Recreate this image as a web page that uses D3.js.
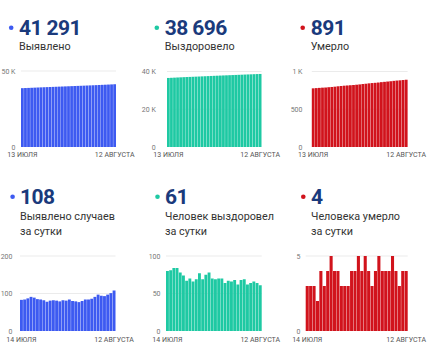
<!DOCTYPE html>
<html>
<head>
<meta charset="utf-8">
<script src="https://cdn.jsdelivr.net/npm/d3@7/dist/d3.min.js"></script>
<style>
  html, body { margin: 0; padding: 0; background: #fff; }
  svg { display: block; font-family: Roboto, "Noto Sans", sans-serif; }
</style>
</head>
<body>
<svg id="chart" width="430" height="355"></svg>
<script>
// ---------- DATA ----------
const datesCumulative = ["13 июля","14 июля","15 июля","16 июля","17 июля","18 июля","19 июля","20 июля","21 июля","22 июля","23 июля","24 июля","25 июля","26 июля","27 июля","28 июля","29 июля","30 июля","31 июля","1 августа","2 августа","3 августа","4 августа","5 августа","6 августа","7 августа","8 августа","9 августа","10 августа","11 августа","12 августа"];
const datesDaily = ["14 июля","15 июля","16 июля","17 июля","18 июля","19 июля","20 июля","21 июля","22 июля","23 июля","24 июля","25 июля","26 июля","27 июля","28 июля","29 июля","30 июля","31 июля","1 августа","2 августа","3 августа","4 августа","5 августа","6 августа","7 августа","8 августа","9 августа","10 августа","11 августа","12 августа"];

const casesTotal = [38707,38790,38874,38961,39052,39141,39226,39310,39392,39470,39551,39633,39714,39793,39875,39956,40040,40120,40199,40276,40356,40440,40524,40610,40701,40798,40892,40985,41082,41183,41291];
const recoveredTotal = [36584,36664,36745,36829,36913,36991,37065,37132,37202,37268,37337,37414,37483,37558,37636,37706,37775,37845,37915,37979,38046,38112,38180,38242,38310,38379,38441,38505,38571,38635,38696];
const deathsTotal = [777,780,783,786,788,792,795,799,804,808,812,815,818,821,825,829,834,838,843,847,850,854,859,863,867,871,876,880,883,887,891];

const casesDaily = [83,84,87,91,89,85,84,82,78,81,82,81,79,82,81,84,80,79,77,80,84,84,86,91,97,94,93,97,101,108];
const recoveredDaily = [80,81,84,84,78,74,67,70,66,69,77,69,75,78,70,69,70,70,64,67,66,68,62,68,69,62,64,66,64,61];
const deathsDaily = [3,3,3,2,4,3,4,5,4,4,3,3,3,4,4,5,4,5,4,3,4,5,4,4,4,5,4,3,4,4];

const headlineNumbers = ["41 291","38 696","891","108","61","4"];
const headlineLabels = [["Выявлено"],["Выздоровело"],["Умерло"],["Выявлено случаев","за сутки"],["Человек выздоровел","за сутки"],["Человека умерло","за сутки"]];

const yTicksCasesTotal = [0, 50000];
const yTicksRecoveredTotal = [0, 20000, 40000];
const yTicksDeathsTotal = [0, 500, 1000];
const yTicksCasesDaily = [0, 100, 200];
const yTicksRecoveredDaily = [0, 50, 100];
const yTicksDeathsDaily = [0, 5];

const xLabelsCumulative = ["13 ИЮЛЯ", "12 АВГУСТА"];
const xLabelsDaily = ["14 ИЮЛЯ", "12 АВГУСТА"];

// ---------- STYLE / LAYOUT ----------
const BLUE = "#3d5af1", TEAL = "#1ec9a3", RED = "#d1131c";
const NAVY = "#1a3a7c";

const panels = [
  { values: casesTotal, dates: datesCumulative, yTicks: yTicksCasesTotal, xLabels: xLabelsCumulative, color: BLUE,
    dotX: 11.2, numX: 19, numY: 35, lblY: 49.5, x0: 21, x1: 116, yTop: 71, yBase: 147, labelRight: 15.5, xLblY: 158.5 },
  { values: recoveredTotal, dates: datesCumulative, yTicks: yTicksRecoveredTotal, xLabels: xLabelsCumulative, color: TEAL,
    dotX: 156.8, numX: 164.8, numY: 35, lblY: 49.5, x0: 167, x1: 261.5, yTop: 71.5, yBase: 147, labelRight: 155.8, xLblY: 158.5 },
  { values: deathsTotal, dates: datesCumulative, yTicks: yTicksDeathsTotal, xLabels: xLabelsCumulative, color: RED,
    dotX: 302.7, numX: 310.8, numY: 35, lblY: 49.5, x0: 311.8, x1: 407.6, yTop: 71.5, yBase: 147, labelRight: 302.5, xLblY: 158.5 },
  { values: casesDaily, dates: datesDaily, yTicks: yTicksCasesDaily, xLabels: xLabelsDaily, color: BLUE,
    dotX: 12.6, numX: 20, numY: 204, lblY: 220, x0: 20, x1: 115.5, yTop: 256, yBase: 331, labelRight: 12.5, xLblY: 343.5 },
  { values: recoveredDaily, dates: datesDaily, yTicks: yTicksRecoveredDaily, xLabels: xLabelsDaily, color: TEAL,
    dotX: 157.5, numX: 165, numY: 204, lblY: 220, x0: 166, x1: 261.7, yTop: 256, yBase: 331, labelRight: 160.5, xLblY: 343.5 },
  { values: deathsDaily, dates: datesDaily, yTicks: yTicksDeathsDaily, xLabels: xLabelsDaily, color: RED,
    dotX: 303.3, numX: 311, numY: 204, lblY: 220, x0: 305.7, x1: 407.7, yTop: 256, yBase: 331, labelRight: 300.5, xLblY: 343.5 }
];

const svg = d3.select("#chart");

panels.forEach((p, i) => {
  const g = svg.append("g");

  // header
  g.append("circle").attr("cx", p.dotX).attr("cy", p.numY - 7.3).attr("r", 2.3).attr("fill", p.color);
  g.append("text").attr("x", p.numX).attr("y", p.numY)
    .attr("font-size", 21).attr("font-weight", 700).attr("fill", NAVY)
    .attr("letter-spacing", -0.6)
    .text(headlineNumbers[i]);
  headlineLabels[i].forEach((line, k) => {
    g.append("text").attr("x", p.numX).attr("y", p.lblY + k * 15.2)
      .attr("font-size", 10.8).attr("fill", "#333").text(line);
  });

  // scales
  const x = d3.scaleBand().domain(p.dates).range([p.x0, p.x1]).paddingInner(0.1).paddingOuter(0);
  const yMax = p.yTicks[p.yTicks.length - 1];
  const y = d3.scaleLinear().domain([0, yMax]).range([p.yBase, p.yTop]);

  // gridlines
  g.append("g").selectAll("line").data(p.yTicks.slice(1)).join("line")
    .attr("x1", p.x0).attr("x2", p.x1)
    .attr("y1", d => y(d)).attr("y2", d => y(d))
    .attr("stroke", "#ebebeb").attr("stroke-width", 1);

  // bars
  g.append("g").selectAll("rect").data(p.values).join("rect")
    .attr("x", (d, j) => x(p.dates[j]))
    .attr("width", x.bandwidth())
    .attr("y", d => y(d))
    .attr("height", d => p.yBase - y(d))
    .attr("fill", p.color);

  // y axis
  const fmt = v => v >= 1000 ? (v / 1000) + " K" : String(v);
  const yAxis = d3.axisLeft(y).tickValues(p.yTicks).tickFormat(fmt).tickSize(0).tickPadding(0);
  const ya = g.append("g").attr("transform", `translate(${p.labelRight},0)`).call(yAxis);
  ya.select(".domain").remove();
  ya.selectAll("text").attr("font-size", 7).attr("fill", "#777").attr("font-family", "Roboto, sans-serif");

  // x axis (first & last labels only)
  const first = p.dates[0], last = p.dates[p.dates.length - 1];
  const xAxis = d3.axisBottom(x).tickValues([first, last])
    .tickFormat(d => d === first ? p.xLabels[0] : p.xLabels[1]).tickSize(0).tickPadding(0);
  const xa = g.append("g").attr("transform", `translate(0,${p.xLblY - 6})`).call(xAxis);
  xa.select(".domain").remove();
  xa.selectAll("text").attr("font-size", 7).attr("fill", "#555").attr("font-family", "Roboto, sans-serif");
});
</script>
</body>
</html>
